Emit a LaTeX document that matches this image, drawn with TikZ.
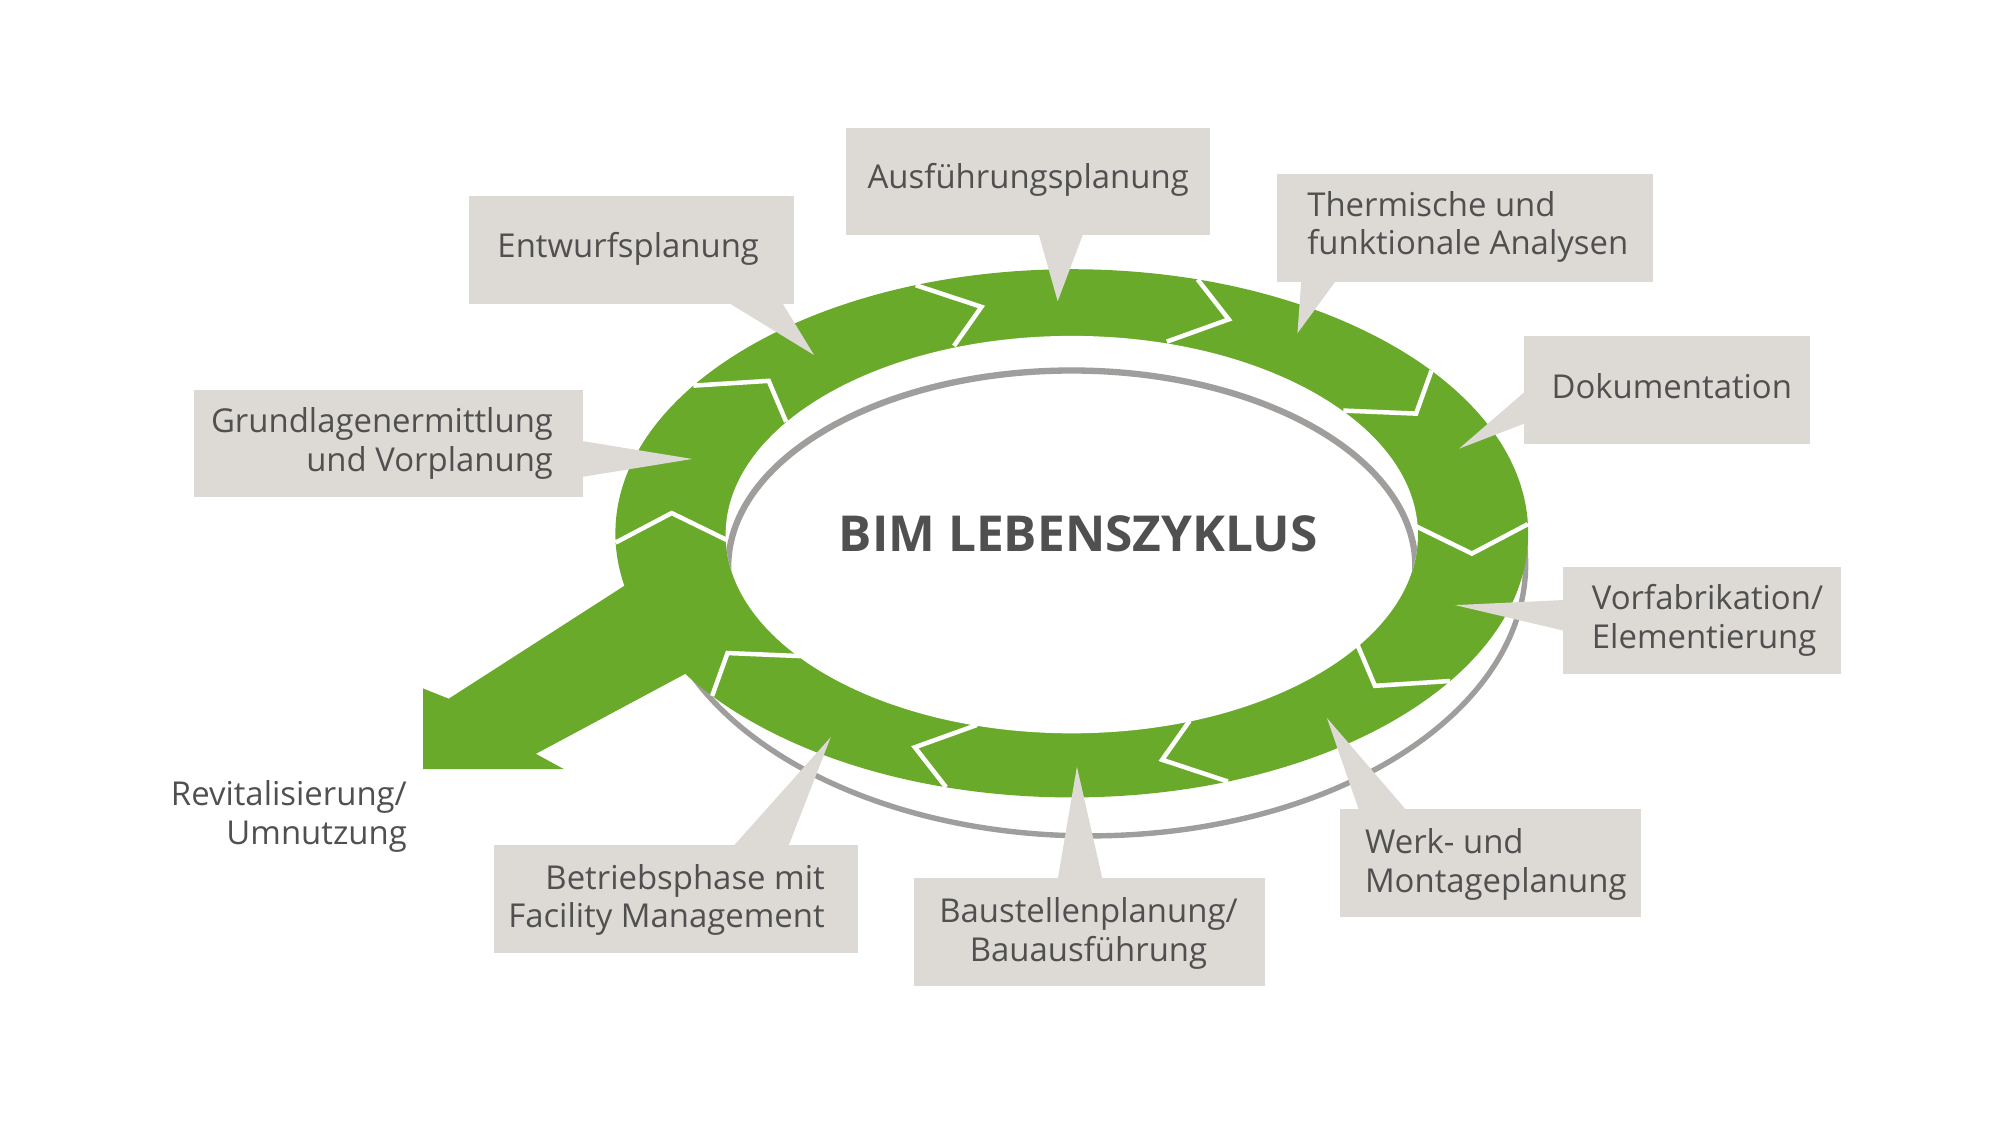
\documentclass[tikz,border=0pt]{standalone}
\usepackage{fontspec}
\setmainfont{Open Sans}
\definecolor{grn}{RGB}{106,170,42}
\definecolor{box}{RGB}{221,217,213}
\definecolor{txt}{RGB}{80,80,80}
\definecolor{shd}{RGB}{160,158,156}
\begin{document}
\begin{tikzpicture}[x=0.1mm,y=-0.1mm,
  lbl/.style={font=\fontsize{7.3}{8.6}\selectfont,text=txt,inner sep=0pt},
  bx/.style={fill=box,draw=none}]
\useasboundingbox (0,0) rectangle (1560,877.5);
% outer shadow ellipse
\draw[shd,line width=1.2pt] (850,440) ellipse [x radius=340,y radius=212];
% exit arrow
\fill[grn] (490,455) -- (350,545) -- (330,537) -- (330,600) -- (440,600) -- (418,588) -- (545,520) -- cycle;
% ring
\fill[grn] (836,416) ellipse [x radius=356,y radius=206];
\fill[white] (836,417) ellipse [x radius=270,y radius=155];
\begin{scope}
\clip (836,417) ellipse [x radius=270,y radius=155];
\draw[shd,line width=1.4pt] (836,442) ellipse [x radius=268,y radius=153];
\end{scope}
% chevrons
\foreach \a in {2,-34,-70,-106,-142,-178,146,110,74,38}{
  \draw[white,line width=1pt]
   ({836+0.755*356*cos(\a)},{416-0.755*206*sin(\a)}) --
   ({836+0.88*356*cos(\a-7)},{416-0.88*206*sin(\a-7)}) --
   ({836+1.0*356*cos(\a)},{416-1.0*206*sin(\a)});
}
\node[font=\bfseries\fontsize{11}{13}\selectfont,text=txt] (title) at (841,416) {BIM LEBENSZYKLUS};
% callouts
\fill[bx] (660,100) rectangle (944,183); \fill[bx] (810,182) -- (825,235) -- (845,182) -- cycle;
\node[lbl] (a1) at (802,140) {Ausführungsplanung};
\fill[bx] (366,153) rectangle (619,237); \fill[bx] (568,236) -- (635,277) -- (610,236) -- cycle;
\node[lbl] (a2) at (490,194) {Entwurfsplanung};
\fill[bx] (996,136) rectangle (1289,220); \fill[bx] (1015,219) -- (1012,260) -- (1042,219) -- cycle;
\node[lbl,align=left,anchor=west] (a3) at (1019,177) {Thermische und\\funktionale Analysen};
\fill[bx] (1189,262) rectangle (1412,346); \fill[bx] (1190,305) -- (1138,350) -- (1190,330) -- cycle;
\node[lbl] (a4) at (1304,301) {Dokumentation};
\fill[bx] (1219,442) rectangle (1436,526); \fill[bx] (1220,468) -- (1135,472) -- (1220,492) -- cycle;
\node[lbl,align=left,anchor=west] (a5) at (1241,484) {Vorfabrikation/\\Elementierung};
\fill[bx] (1045,631) rectangle (1280,715); \fill[bx] (1060,632) -- (1035,560) -- (1097,632) -- cycle;
\node[lbl,align=left,anchor=west] (a6) at (1064,674) {Werk- und\\Montageplanung};
\fill[bx] (713,685) rectangle (987,769); \fill[bx] (825,686) -- (840,598) -- (860,686) -- cycle;
\node[lbl,align=center] (a7) at (849,728) {Baustellenplanung/\\Bauausführung};
\fill[bx] (385,659) rectangle (669,743); \fill[bx] (572,660) -- (648,575) -- (615,660) -- cycle;
\node[lbl,align=right,anchor=east] (a8) at (644,702) {Betriebsphase mit\\Facility Management};
\fill[bx] (151,304) rectangle (455,388); \fill[bx] (454,344) -- (540,358) -- (454,372) -- cycle;
\node[lbl,align=right,anchor=east] (a9) at (432,346) {Grundlagenermittlung\\und Vorplanung};
\node[lbl,align=right,anchor=east] (a10) at (318,637) {Revitalisierung/\\Umnutzung};
\end{tikzpicture}
\end{document}
